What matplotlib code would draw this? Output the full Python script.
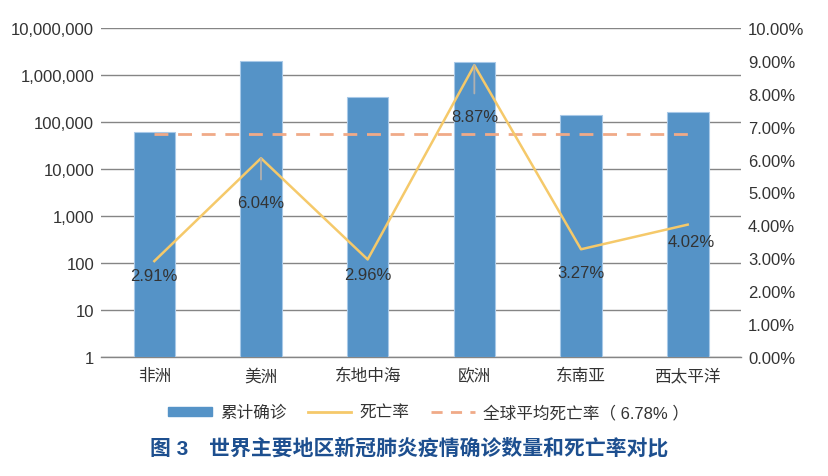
import numpy as np
import matplotlib.pyplot as plt
from matplotlib.ticker import FuncFormatter, FixedLocator
from matplotlib.patches import Patch
from matplotlib.lines import Line2D

plt.rcParams['font.family'] = ['Liberation Sans', 'Noto Sans CJK SC']

# Data
regions = ['非洲', '美洲', '东地中海', '欧洲', '东南亚', '西太平洋']
confirmed = [60000, 2000000, 340000, 1900000, 138000, 167000]
death_rate = [2.91, 6.04, 2.96, 8.87, 3.27, 4.02]
global_rate = 6.78
log_ticks = [1, 10, 100, 1000, 10000, 100000, 1000000, 10000000]
pct_ticks = [0, 1, 2, 3, 4, 5, 6, 7, 8, 9, 10]

# label placement (pixel offsets below each point) and which get leader lines
label_dy = [-14, -44, -15, -51, -23, -17]
label_dx = [0, 0, 0, 0, 0, 4]
leader = [False, True, False, True, False, False]

bar_color = '#5593c7'
line_color = '#f5c96a'
dash_color = '#f0aa88'
grid_color = '#858585'
text_color = '#333333'

fig = plt.figure(figsize=(8.29, 4.77), dpi=100)
ax = fig.add_axes([0.1218, 0.250, 0.7721, 0.689])
ax2 = ax.twinx()

x = np.arange(len(regions))

ax.set_yscale('log')
ax.set_ylim(1, 1e7)
ax.set_xlim(-0.5, len(regions) - 0.5)
ax.yaxis.set_major_locator(FixedLocator(log_ticks))
ax.yaxis.set_minor_locator(FixedLocator([]))
ax.yaxis.set_major_formatter(FuncFormatter(lambda v, p: f'{int(round(v)):,}'))
ax.grid(axis='y', color=grid_color, linewidth=1.0, zorder=0)
ax.set_axisbelow(True)
ax.axhline(1, color=grid_color, linewidth=1.0, clip_on=False, zorder=1)
ax.bar(x, confirmed, width=0.39, bottom=1, color=bar_color,
       edgecolor='#a8c9e8', linewidth=0.8, zorder=2)

ax.set_xticks(x)
ax.set_xticklabels(regions, fontsize=12, color=text_color)
ax.tick_params(axis='both', length=0, labelsize=12, labelcolor=text_color)
ax.tick_params(axis='x', pad=8)
ax.tick_params(axis='y', pad=5)

ax2.set_ylim(0, 10)
ax2.yaxis.set_major_locator(FixedLocator(pct_ticks))
ax2.yaxis.set_major_formatter(FuncFormatter(lambda v, p: f'{v:.2f}%'))
ax2.tick_params(axis='y', length=0, labelsize=12, labelcolor=text_color, pad=5)

for a in (ax, ax2):
    for s in a.spines.values():
        s.set_visible(False)

ax2.plot([x[0], x[-1]], [global_rate, global_rate], color=dash_color,
         linewidth=2, dashes=(5, 3.5), zorder=3)
ax2.plot(x, death_rate, color=line_color, linewidth=1.8, zorder=4)

for i, v in enumerate(death_rate):
    props = None
    if leader[i]:
        props = dict(arrowstyle='-', color='#b0b0b0', linewidth=1.3,
                     shrinkA=9, shrinkB=0)
    ax2.annotate(f'{v:.2f}%', xy=(x[i], v), xytext=(label_dx[i], label_dy[i]),
                 textcoords='offset pixels', ha='center', va='center',
                 fontsize=12, color=text_color, arrowprops=props, zorder=5)

handles = [Patch(facecolor=bar_color, edgecolor=bar_color),
           Line2D([], [], color=line_color, linewidth=2),
           Line2D([], [], color=dash_color, linewidth=2, dashes=(4, 3))]
labels = ['累计确诊', '死亡率', '全球平均死亡率（ 6.78% ）']
fig.legend(handles, labels, loc='center', bbox_to_anchor=(0.517, 1 - 413 / 477),
           ncol=3, frameon=False, fontsize=12, handlelength=2.6,
           handleheight=0.45, columnspacing=1.3, handletextpad=0.5,
           labelcolor=text_color)

fig.text(0.494, 1 - 448 / 477, '图 3　世界主要地区新冠肺炎疫情确诊数量和死亡率对比',
         ha='center', va='center', fontsize=15, fontweight='bold',
         color='#1d4f8f')

fig.savefig('out.png', dpi=100)
